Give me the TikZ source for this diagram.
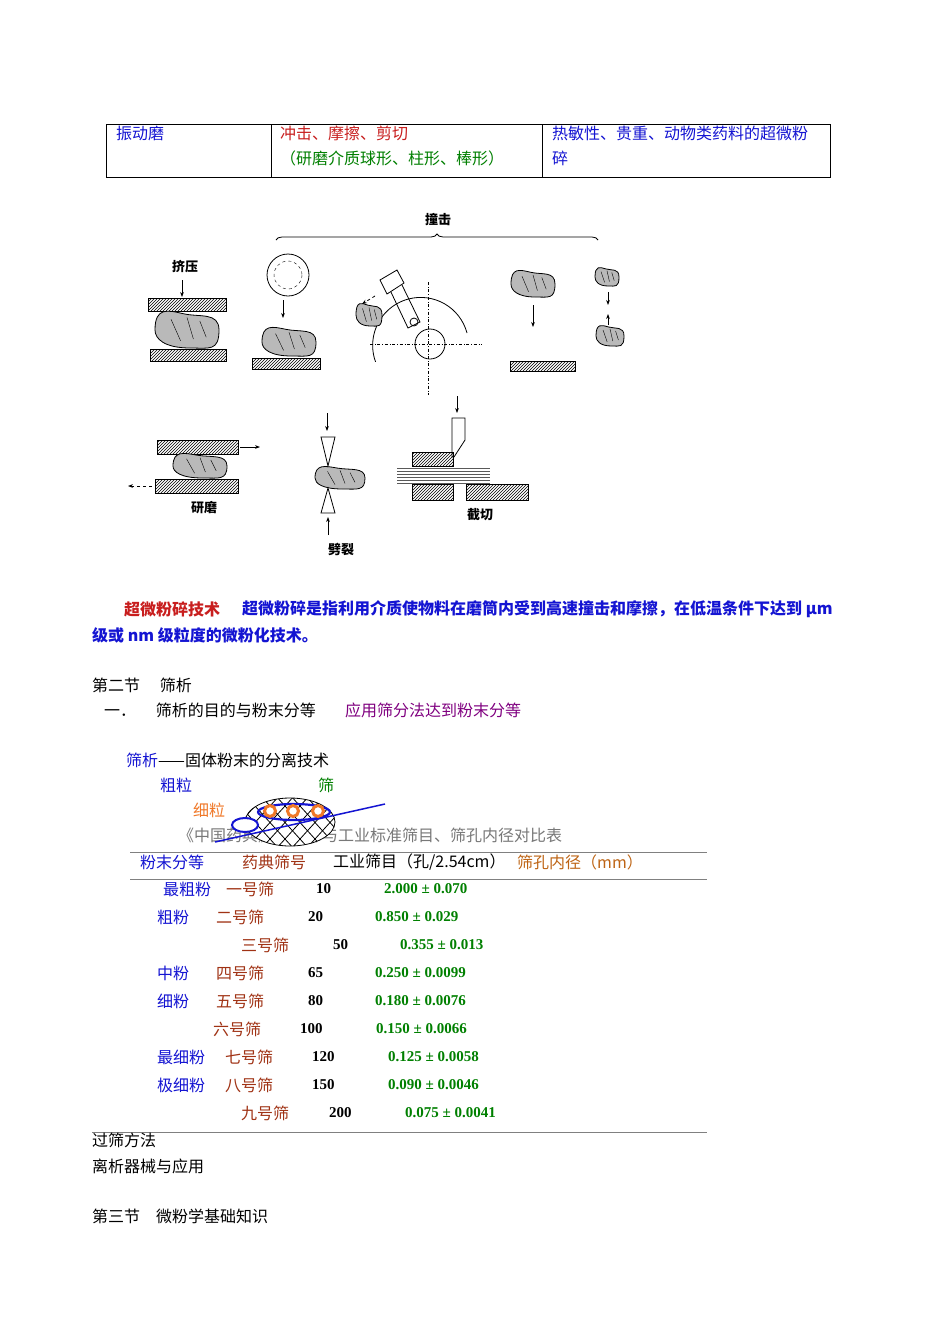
\documentclass[tikz,border=0pt]{standalone}
\usepackage{fontspec}
\setmainfont{Liberation Serif}
\newfontfamily\cjk{Noto Sans CJK SC}
\usetikzlibrary{patterns,decorations.pathreplacing,arrows.meta}
\definecolor{tblue}{RGB}{20,20,210}
\definecolor{tred}{RGB}{200,30,30}
\definecolor{tgreen}{RGB}{0,128,0}
\definecolor{tpurple}{RGB}{128,0,128}
\definecolor{torange}{RGB}{240,120,40}
\definecolor{tbrown}{RGB}{160,50,20}
\definecolor{tbr2}{RGB}{190,100,20}
\definecolor{tgray}{RGB}{120,120,120}
\tikzset{
  t/.style={anchor=west,inner sep=0pt,font=\cjk\fontsize{16}{18}\selectfont},
  tb/.style={t,font=\cjk\bfseries\fontsize{16}{18}\selectfont},
  num/.style={anchor=west,inner sep=0pt,font=\bfseries\fontsize{15}{17}\selectfont},
  plate/.style={draw,thick,pattern=north east lines},
  blob/.style={draw,thick,fill=gray!55},
  arr/.style={-{Stealth[length=5pt]},thick},
  fig/.style={anchor=center,inner sep=0pt,font=\cjk\bfseries\fontsize{13}{15}\selectfont},
}
\newcommand{\myblob}[5][]{\draw[blob,#1] (#2,#3) ++(-#4,0) .. controls +(0,-#5*1.3) and +(-#4*0.5,-#5*0.2) .. ++(#4*0.9,-#5*0.9) .. controls +(#4*0.5,0.2*#5) and +(0,-#5) .. ++(#4*1.1,#5*0.9) .. controls +(0,#5*1.2) and +(#4*0.6,0) .. ++(-#4*0.9,#5*1.0) .. controls +(-#4*0.8,0) and +(0,#5*0.5) .. cycle;
\draw[thin] (#2-#4*0.5,#3-#5*0.6) -- (#2-#4*0.2,#3+#5*0.6) (#2,#3-#5*0.7) -- (#2+#4*0.2,#3+#5*0.5) (#2+#4*0.4,#3-#5*0.5)--(#2+#4*0.6,#3+#5*0.4);}
\begin{document}
\begin{tikzpicture}[x=1pt,y=-1pt]
\useasboundingbox[fill=white] (0,0) rectangle (950,1344);
% top table
\draw[thin] (106,124) rectangle (830,177) (271,124) -- (271,177) (542,124) -- (542,177);
\node[t,text=tblue] (a1) at (116,133) {振动磨};
\node[t,text=tred] (a2) at (280,133) {冲击、摩擦、剪切};
\node[t,text=tgreen] (a3) at (280,158) {（研磨介质球形、柱形、棒形）};
\node[t,text=tblue] (a4) at (552,133) {热敏性、贵重、动物类药料的超微粉};
\node[t,text=tblue] (a5) at (552,158) {碎};
% figure
\node[fig] (zj) at (438,220) {撞击};
\draw[thick,decorate,decoration={brace,amplitude=6pt}] (276,240) -- (598,240);
\node[fig] (jy) at (185,267) {挤压};
\coordinate (jy1) at (182,280); \coordinate (jy2) at (182,297);
\draw[arr] (jy1) -- (jy2);
\draw[plate] (148,298) rectangle (226,311);
\draw[plate] (150,349) rectangle (226,361);
\myblob{187}{330}{32}{18}
\draw[thick] (288,275) circle (21); \draw[dashed] (288,275) circle (14);
\coordinate (b1) at (283,300); \coordinate (b2) at (283,318);
\draw[arr] (b1) -- (b2);
\myblob{289}{342}{27}{14}
\draw[plate] (252,358) rectangle (320,369);
% rotor
\draw[dash dot] (370,344) -- (482,344) (428,282) -- (428,395);
\draw[thick] (430,344) circle (15);
\draw[thick] (467,333) arc (-15:-200:48) ;
\draw[thick] (390,290) -- (408,328) -- (420,322) -- (402,285);
\draw[thick,fill=white] (380,280) -- (397,270) -- (404,283) -- (387,294) -- cycle;
\draw[thick] (414,322) circle (4);
\myblob{369}{315}{13}{11}
\coordinate (r1) at (375,296); \coordinate (r2) at (362,304);
\draw[arr,dashed] (r1) -- (r2);
\myblob{533}{284}{22}{13}
\coordinate (c1) at (533,305); \coordinate (c2) at (533,327);
\draw[arr] (c1) -- (c2);
\draw[plate] (510,361) rectangle (575,371);
\myblob{607}{277}{12}{9}
\coordinate (d1) at (608,292); \coordinate (d2) at (608,305);
\coordinate (d3) at (608,325); \coordinate (d4) at (608,314);
\draw[arr] (d1) -- (d2); \draw[arr] (d3) -- (d4);
\myblob{610}{336}{14}{10}
% grinding
\draw[plate] (157,440) rectangle (238,454);
\draw[plate] (155,479) rectangle (238,493);
\myblob{200}{466}{27}{12}
\coordinate (g1) at (240,447); \coordinate (g2) at (260,447);
\coordinate (g3) at (152,486); \coordinate (g4) at (128,486);
\draw[arr] (g1) -- (g2); \draw[arr,dashed] (g3) -- (g4);
\node[fig] (ym) at (204,508) {研磨};
% splitting
\myblob{340}{478}{25}{11}
\draw[thick,fill=white] (321,437) -- (335,437) -- (328,466) -- cycle;
\draw[thick,fill=white] (321,513) -- (335,513) -- (328,488) -- cycle;
\coordinate (p1) at (327,413); \coordinate (p2) at (327,431);
\coordinate (p3) at (328,535); \coordinate (p4) at (328,517);
\draw[arr] (p1) -- (p2); \draw[arr] (p3) -- (p4);
\node[fig] (pl) at (341,549) {劈裂};
% cutting
\draw[thick,fill=white] (452,418) -- (465,418) -- (465,440) -- (454,457) -- (452,457) -- cycle;
\coordinate (q1) at (457,396); \coordinate (q2) at (457,413);
\draw[arr] (q1) -- (q2);
\draw[plate] (412,452) rectangle (453,466);
\foreach \yy in {468,471,474,477,480,483} \draw[thin,gray!70!black] (397,\yy) -- (490,\yy);
\draw[plate] (412,484) rectangle (453,500);
\draw[plate] (466,484) rectangle (528,500);
\node[fig] (jq) at (480,515) {截切};
% paragraph
\node[tb,text=tred] (p1t) at (124,609) {超微粉碎技术};
\node[tb,text=tblue] (p2t) at (242,609) {超微粉碎是指利用介质使物料在磨筒内受到高速撞击和摩擦，在低温条件下达到 μm};
\node[tb,text=tblue] (p3t) at (92,635) {级或 nm 级粒度的微粉化技术。};
\node[t] (s2) at (92,685) {第二节\quad\ 筛析};
\node[t] (s21) at (104,710) {一．\quad\ 筛析的目的与粉末分等};
\node[t,text=tpurple] (s22) at (345,710) {应用筛分法达到粉末分等};
\node[t,text=tblue] (sx) at (126,760) {筛析};
\node[t] (sx2) at (158,760) {——固体粉末的分离技术};
\node[t,text=tblue] (cl) at (160,785) {粗粒};
\node[t,text=tgreen] (sai) at (318,785) {筛};
\node[t,text=torange] (xl) at (193,810) {细粒};
\node[t,text=tgray] (tt) at (178,835) {《中国药典》标准筛与工业标准筛目、筛孔内径对比表};
% sieve
\begin{scope}
\clip (290,822) ellipse (45 and 24);
\fill[white] (290,822) ellipse (45 and 24);
\foreach \k in {-100,-85,...,110} {\draw[thick] (240+\k,850) -- (290+\k,795); \draw[thick] (240+\k,795) -- (290+\k,850);}
\end{scope}
\draw[thick] (290,822) ellipse (45 and 24);
\draw[tblue,line width=2.2pt] (294,812) ellipse (36 and 8);
\draw[tblue,line width=2pt,fill=white] (245,825) ellipse (13 and 7);
\foreach \cx in {270,293,318} \draw[torange,line width=3pt,fill=white] (\cx,811) circle (5.5);
\coordinate (bl1) at (215,842); \coordinate (bl2) at (385,804);
\draw[tblue,line width=1.5pt] (bl1) -- (bl2);
% big table
\draw[gray,line width=1pt] (130,852) -- (707,852) (130,879) -- (707,879) (92,1132) -- (707,1132);
\node[t,text=tblue] (h1) at (140,862) {粉末分等};
\node[t,text=tbrown] (h2) at (242,862) {药典筛号};
\node[t] (h3) at (333,862) {工业筛目（孔/2.54cm）};
\node[t,text=tbr2] (h4) at (517,862) {筛孔内径（mm）};
\foreach \y/\gx/\g/\sx/\s/\nx/\n [count=\i] in {
889/163/最粗粉/226/一号筛/316/10,
917/157/粗粉/216/二号筛/308/20,
945/157//241/三号筛/333/50,
973/157/中粉/216/四号筛/308/65,
1001/157/细粉/216/五号筛/308/80,
1029/157//213/六号筛/300/100,
1057/157/最细粉/225/七号筛/312/120,
1085/157/极细粉/225/八号筛/312/150,
1113/157//241/九号筛/329/200}{
\node[t,text=tblue] (g\i) at (\gx,\y) {\g};
\node[t,text=tbrown] (s\i) at (\sx,\y) {\s};
\node[num] (n\i) at (\nx,\y) {\n};
}
\node[num,text=tgreen] (v1) at (384,889) {2.000 ± 0.070};
\node[num,text=tgreen] (v2) at (375,917) {0.850 ± 0.029};
\node[num,text=tgreen] (v3) at (400,945) {0.355 ± 0.013};
\node[num,text=tgreen] (v4) at (375,973) {0.250 ± 0.0099};
\node[num,text=tgreen] (v5) at (375,1001) {0.180 ± 0.0076};
\node[num,text=tgreen] (v6) at (376,1029) {0.150 ± 0.0066};
\node[num,text=tgreen] (v7) at (388,1057) {0.125 ± 0.0058};
\node[num,text=tgreen] (v8) at (388,1085) {0.090 ± 0.0046};
\node[num,text=tgreen] (v9) at (405,1113) {0.075 ± 0.0041};
\node[t] (e1) at (92,1140) {过筛方法};
\node[t] (e2) at (92,1166) {离析器械与应用};
\node[t] (e3) at (92,1216) {第三节\quad 微粉学基础知识};
\end{tikzpicture}
\end{document}
